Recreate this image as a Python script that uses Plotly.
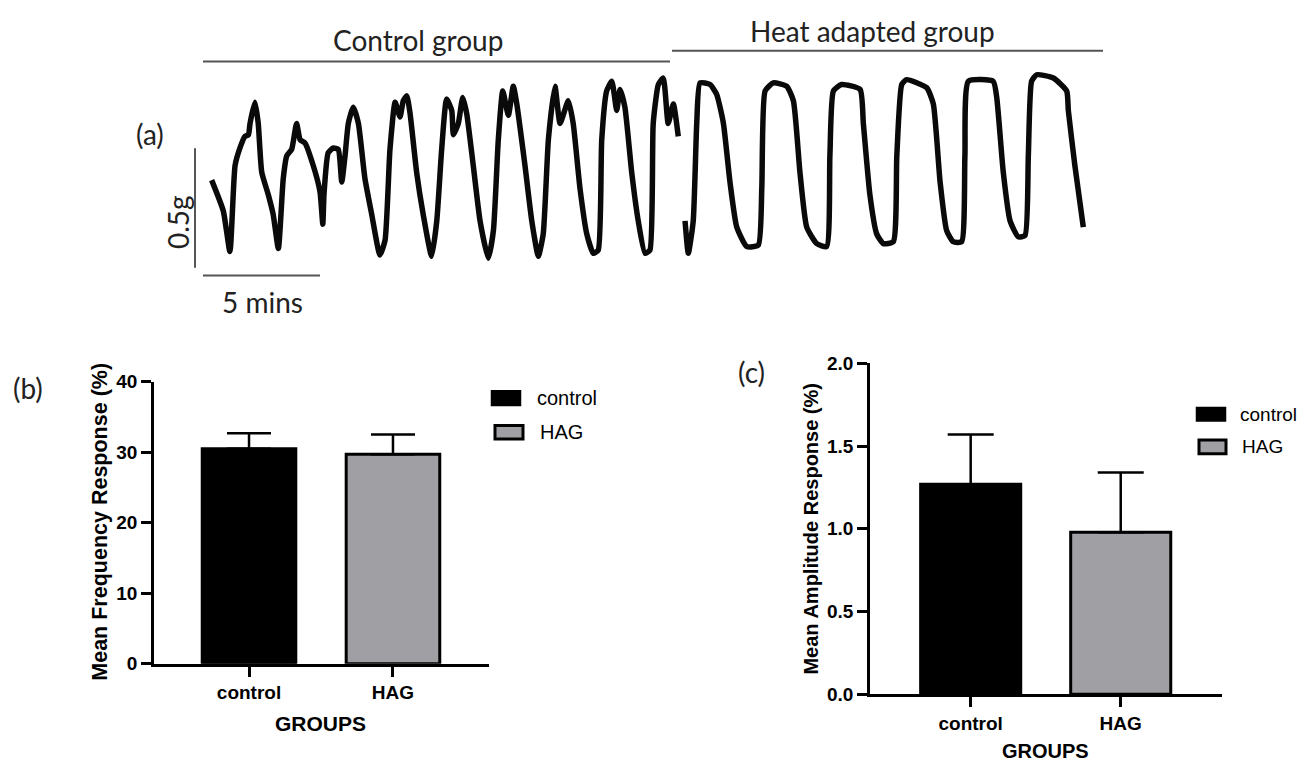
import plotly.graph_objects as go

# ---------------- (a) isometric tension recording ----------------
# time in minutes, tension in g
control_t = [0.37, 0.87, 1.15, 1.37, 1.58, 1.79, 1.94, 2.01, 2.22, 2.36, 2.51, 2.79, 3.00, 3.22,
             3.43, 3.58, 3.79, 4.00, 4.15, 4.36, 4.71, 5.00, 5.12, 5.17, 5.35, 5.57, 5.78, 5.93,
             6.07, 6.21, 6.42, 6.64, 6.92, 7.21, 7.56, 7.78, 7.99, 8.21, 8.42, 8.56, 8.71, 8.85,
             9.13, 9.41, 9.77, 9.99, 10.20, 10.41, 10.63, 10.70, 10.91, 11.10, 11.27, 11.55,
             11.84, 12.19, 12.41, 12.62, 12.81, 13.05, 13.26, 13.41, 13.76, 14.05, 14.33, 14.54,
             14.76, 15.04, 15.26, 15.61, 15.82, 16.11, 16.40, 16.68, 16.89, 17.04, 17.25, 17.47,
             17.68, 17.82, 18.03, 18.32, 18.60, 18.89, 19.10, 19.24, 19.46, 19.67, 19.88, 20.10,
             20.31]
control_g = [0.366, 0.232, 0.058, 0.429, 0.505, 0.555, 0.562, 0.611, 0.702, 0.611, 0.400, 0.303,
             0.218, 0.071, 0.373, 0.471, 0.499, 0.611, 0.541, 0.526, 0.429, 0.316, 0.176, 0.303,
             0.484, 0.505, 0.499, 0.358, 0.471, 0.611, 0.681, 0.611, 0.373, 0.218, 0.043, 0.106,
             0.499, 0.702, 0.639, 0.709, 0.730, 0.653, 0.400, 0.218, 0.037, 0.190, 0.499, 0.716,
             0.667, 0.562, 0.611, 0.723, 0.653, 0.429, 0.190, 0.029, 0.148, 0.541, 0.751, 0.646,
             0.772, 0.695, 0.429, 0.190, 0.037, 0.134, 0.541, 0.772, 0.611, 0.709, 0.611, 0.331,
             0.134, 0.050, 0.064, 0.541, 0.751, 0.793, 0.667, 0.758, 0.681, 0.400, 0.190, 0.050,
             0.064, 0.611, 0.779, 0.807, 0.611, 0.695, 0.555]

hag_t = [20.60, 20.74, 20.95, 21.10, 21.24, 21.67, 21.95, 22.24, 22.52, 22.81, 23.24, 23.73,
         23.88, 24.02, 24.37, 24.94, 25.23, 25.51, 25.80, 26.23, 26.65, 26.79, 26.94, 27.29,
         28.08, 28.22, 28.50, 28.79, 29.07, 29.50, 29.65, 29.86, 30.07, 30.93, 31.21, 31.50,
         31.78, 32.06, 32.42, 32.56, 32.71, 33.77, 33.92, 34.20, 34.49, 34.84, 35.13, 35.27,
         35.41, 35.63, 36.34, 36.91, 36.98, 37.26, 37.62]
hag_g = [0.190, 0.050, 0.190, 0.611, 0.786, 0.779, 0.737, 0.611, 0.358, 0.163, 0.079, 0.085,
         0.331, 0.751, 0.786, 0.772, 0.709, 0.400, 0.163, 0.092, 0.079, 0.471, 0.751, 0.779,
         0.758, 0.611, 0.303, 0.134, 0.092, 0.100, 0.471, 0.779, 0.800, 0.765, 0.695, 0.358,
         0.148, 0.100, 0.100, 0.471, 0.793, 0.793, 0.723, 0.400, 0.190, 0.121, 0.127, 0.471,
         0.793, 0.821, 0.807, 0.751, 0.667, 0.429, 0.163]

# ---------------- (b) and (c) group means ----------------
groups = ["control", "HAG"]
freq_mean = [30.5, 29.7]
freq_sem = [2.2, 2.8]
amp_mean = [1.27, 0.98]
amp_sem = [0.30, 0.36]

bar_colors = ["#000000", "#a0a0a4"]

W, H = 1314, 774


def px(x):
    return x / W


def py(y):
    return 1 - y / H


fig = go.Figure()

trace_line = dict(color="#0a0a0a", width=5.5, shape="spline", smoothing=0.5)
fig.add_trace(go.Scatter(x=control_t, y=control_g, mode="lines", line=trace_line,
                         xaxis="x", yaxis="y", showlegend=False, hoverinfo="skip"))
fig.add_trace(go.Scatter(x=hag_t, y=hag_g, mode="lines", line=trace_line,
                         xaxis="x", yaxis="y", showlegend=False, hoverinfo="skip"))

fig.add_trace(go.Bar(
    x=groups, y=freq_mean, xaxis="x2", yaxis="y2", width=0.65,
    marker=dict(color=bar_colors, line=dict(color="#000000", width=3)),
    error_y=dict(type="data", symmetric=False, array=freq_sem, arrayminus=[0, 0],
                 color="#000000", thickness=2.5, width=22),
    showlegend=False, hoverinfo="skip"))

fig.add_trace(go.Bar(
    x=groups, y=amp_mean, xaxis="x3", yaxis="y3", width=0.667,
    marker=dict(color=bar_colors, line=dict(color="#000000", width=3)),
    error_y=dict(type="data", symmetric=False, array=amp_sem, arrayminus=[0, 0],
                 color="#000000", thickness=2.5, width=23),
    showlegend=False, hoverinfo="skip"))

tick_font = dict(family="Liberation Sans, Arial, sans-serif", size=19, color="#000000",
                 weight="bold")
bar_axis_common = dict(showline=True, linecolor="#000000", linewidth=2.5, ticks="outside",
                       ticklen=10, tickwidth=2.5, tickcolor="#000000", showgrid=False,
                       zeroline=False, tickfont=tick_font, fixedrange=True)

fig.update_layout(
    width=W, height=H,
    margin=dict(l=0, r=0, t=0, b=0),
    paper_bgcolor="#ffffff", plot_bgcolor="rgba(0,0,0,0)",
    showlegend=False, hovermode=False,
    xaxis=dict(domain=[px(180), px(1120)], range=[-0.983, 39.188], visible=False,
               fixedrange=True),
    yaxis=dict(domain=[py(285), py(55)], range=[-0.0966, 0.8697], visible=False,
               fixedrange=True),
    xaxis2=dict(domain=[px(154), px(489)], range=[-0.66, 1.667], anchor="y2",
                **bar_axis_common),
    yaxis2=dict(domain=[py(672), py(382)], range=[0, 40], anchor="x2",
                tickvals=[0, 10, 20, 30, 40], **bar_axis_common),
    xaxis3=dict(domain=[px(870), px(1222)], range=[-0.671, 1.675], anchor="y3",
                **bar_axis_common),
    yaxis3=dict(domain=[py(703.3), py(363.3)], range=[0, 2], anchor="x3",
                tickvals=[0, 0.5, 1.0, 1.5, 2.0], tickformat=".1f", **bar_axis_common),
)

label_font = dict(family="Lato, sans-serif", size=28, color="#222222")
arial = "Liberation Sans, Arial, sans-serif"

annotations = [
    dict(text="Control group", x=px(418), y=py(31), font=label_font),
    dict(text="Heat adapted group", x=px(872), y=py(22), font=label_font),
    dict(text="(a)", x=px(150), y=py(127), font=label_font),
    dict(text="0.5g", x=px(178), y=py(218), font=label_font, textangle=-90),
    dict(text="5 mins", x=px(262), y=py(300), font=label_font),
    dict(text="(b)", x=px(28), y=py(389), font=label_font),
    dict(text="(c)", x=px(751), y=py(372), font=label_font),
    dict(text="Mean Frequency Response (%)", x=px(100), y=py(526), textangle=-90,
         font=dict(family=arial, size=21.5, color="#000000", weight="bold")),
    dict(text="GROUPS", x=px(320), y=py(733),
         font=dict(family=arial, size=21, color="#000000", weight="bold")),
    dict(text="Mean Amplitude Response (%)", x=px(811), y=py(533), textangle=-90,
         font=dict(family=arial, size=20, color="#000000", weight="bold")),
    dict(text="GROUPS", x=px(1045), y=py(762),
         font=dict(family=arial, size=20, color="#000000", weight="bold")),
    # legend labels
    dict(text="control", x=px(535), y=py(399), xanchor="left",
         font=dict(family=arial, size=20, color="#000000")),
    dict(text="HAG", x=px(538), y=py(434), xanchor="left",
         font=dict(family=arial, size=20, color="#000000")),
    dict(text="control", x=px(1238), y=py(415.5), xanchor="left",
         font=dict(family=arial, size=19, color="#000000")),
    dict(text="HAG", x=px(1240), y=py(449), xanchor="left",
         font=dict(family=arial, size=19, color="#000000")),
]
for a in annotations:
    a.setdefault("xanchor", "center")
    a.update(xref="paper", yref="paper", yanchor="middle", showarrow=False)
fig.update_layout(annotations=annotations)

grey_line = dict(color="#555555", width=2)
shapes = [
    # group brackets above the recording
    dict(type="line", xref="paper", yref="paper", x0=px(203), x1=px(670), y0=py(53), y1=py(53),
         line=grey_line),
    dict(type="line", xref="paper", yref="paper", x0=px(672), x1=px(1103), y0=py(42), y1=py(42),
         line=grey_line),
    # scale bars: 0.5 g and 5 min
    dict(type="line", xref="paper", yref="paper", x0=px(195), x1=px(195), y0=py(142), y1=py(265),
         line=grey_line),
    dict(type="line", xref="x", yref="paper", x0=0, x1=5, y0=py(273), y1=py(273),
         line=grey_line),
    # legend swatches (b)
    dict(type="rect", xref="paper", yref="paper", x0=px(492), x1=px(520), y0=py(406), y1=py(392),
         fillcolor=bar_colors[0], line=dict(color="#000000", width=2.5)),
    dict(type="rect", xref="paper", yref="paper", x0=px(495), x1=px(523), y0=py(441), y1=py(427),
         fillcolor=bar_colors[1], line=dict(color="#000000", width=3)),
    # legend swatches (c)
    dict(type="rect", xref="paper", yref="paper", x0=px(1197), x1=px(1225), y0=py(422), y1=py(409),
         fillcolor=bar_colors[0], line=dict(color="#000000", width=2.5)),
    dict(type="rect", xref="paper", yref="paper", x0=px(1199), x1=px(1226), y0=py(456), y1=py(442),
         fillcolor=bar_colors[1], line=dict(color="#000000", width=3)),
]
fig.update_layout(shapes=shapes)

fig.write_html("out.html")
